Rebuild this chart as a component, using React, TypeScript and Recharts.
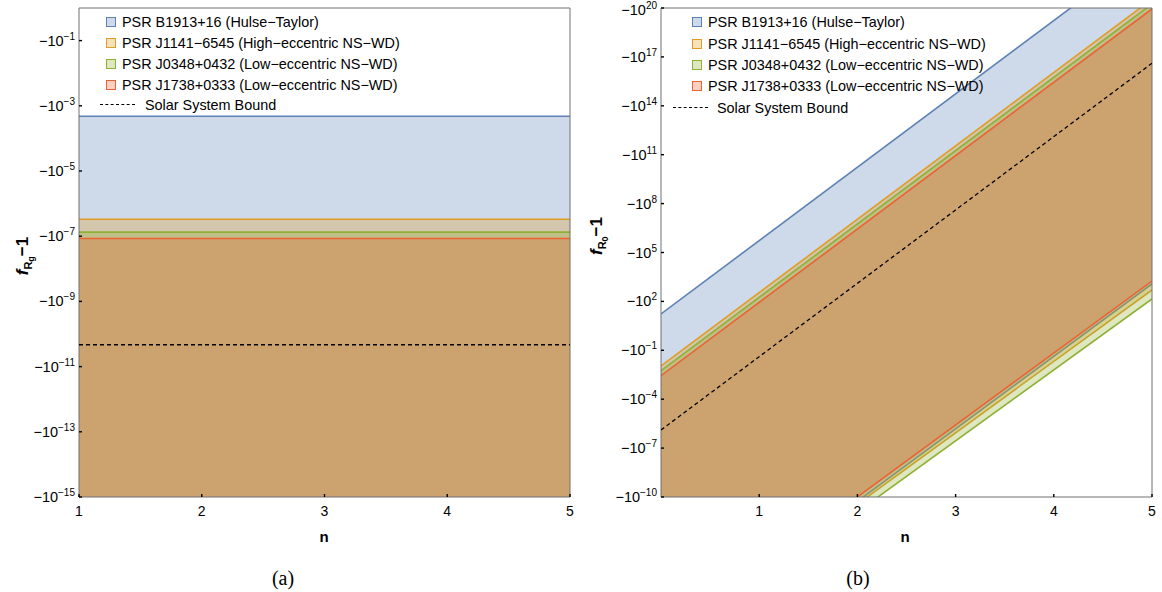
import React from 'react';
import { ComposedChart, Area, Line, XAxis, YAxis, ReferenceArea } from 'recharts';

const seriesNames = [
  'PSR B1913+16 (Hulse\u2212Taylor)',
  'PSR J1141\u22126545 (High\u2212eccentric NS\u2212WD)',
  'PSR J0348+0432 (Low\u2212eccentric NS\u2212WD)',
  'PSR J1738+0333 (Low\u2212eccentric NS\u2212WD)',
];
const boundName = 'Solar System Bound';
const seriesColors = ['#5E81B5', '#E19C24', '#8FB032', '#EB6235'];

// Panel (a): exponent k, where f_Rg - 1 = -10^k
const aN = [1, 5];
const aFloor = [-15.5, -15.5];
const aB1913 = [-3.32, -3.32];
const aJ1141 = [-6.48, -6.48];
const aJ0348 = [-6.875, -6.875];
const aJ1738 = [-7.07, -7.07];
const aSolar = [-10.33, -10.33];
const aYTicks = [-15, -13, -11, -9, -7, -5, -3, -1];
const aXTicks = [1, 2, 3, 4, 5];
const aTopTicks = [1.2, 1.4, 1.6, 1.8, 2, 2.2, 2.4, 2.6, 2.8, 3, 3.2, 3.4, 3.6, 3.8, 4, 4.2, 4.4, 4.6, 4.8];

// Panel (b): exponent k, where f_R0 - 1 = -10^k
const bN = [0, 5];
const bB1913Upper = [1.23, 23.73];
const bB1913Lower = [-19.16, 3.07];
const bJ1141Upper = [-1.96, 20.54];
const bJ1141Lower = [-19.2, 2.7];
const bJ0348Upper = [-2.25, 20.25];
const bJ0348Lower = [-19.62, 2.15];
const bJ1738Upper = [-2.56, 19.94];
const bJ1738Lower = [-18.83, 3.25];
const bSolar = [-5.89, 16.61];
const bYTicks = [-10, -7, -4, -1, 2, 5, 8, 11, 14, 17, 20];
const bXTicks = [1, 2, 3, 4, 5];
const bTopTicks = [0.25, 0.5, 0.75, 1, 1.25, 1.5, 1.75, 2, 2.25, 2.5, 2.75, 3, 3.25, 3.5, 3.75, 4, 4.25, 4.5, 4.75];

const aData = aN.map((n, i) => ({
  n,
  s0: [aFloor[i], aB1913[i]],
  s1: [aFloor[i], aJ1141[i]],
  s2: [aFloor[i], aJ0348[i]],
  s3: [aFloor[i], aJ1738[i]],
  solar: aSolar[i],
}));

const bData = bN.map((n, i) => ({
  n,
  s0: [bB1913Lower[i], bB1913Upper[i]],
  s1: [bJ1141Lower[i], bJ1141Upper[i]],
  s2: [bJ0348Lower[i], bJ0348Upper[i]],
  s3: [bJ1738Lower[i], bJ1738Upper[i]],
  solar: bSolar[i],
}));

const FONT = '"Liberation Sans", Arial, Helvetica, sans-serif';
const FRAME = '#707070';

const expLabel = (k: number) => (k < 0 ? '\u2212' + Math.abs(k) : String(k));

const makeYTick = (plotLeft: number) => (props: any) => {
  const { y, payload } = props;
  const base = y < 15 ? y + 7 : y + 5;
  return (
    <g>
      <line x1={plotLeft} x2={plotLeft + 3} y1={y} y2={y} stroke="#000" strokeWidth={1.4} />
      <text x={plotLeft - 4} y={base} textAnchor="end" fontFamily={FONT} fontSize={14.5} fill="#000">
        <tspan>{'\u221210'}</tspan>
        <tspan dy={-6} fontSize={10}>{expLabel(payload.value)}</tspan>
      </text>
    </g>
  );
};

const makeXTick = (plotBottom: number) => (props: any) => {
  const { x, payload } = props;
  return (
    <g>
      <line x1={x} x2={x} y1={plotBottom} y2={plotBottom - 3} stroke="#000" strokeWidth={1.4} />
      <text x={x} y={plotBottom + 19} textAnchor="middle" fontFamily={FONT} fontSize={14} fill="#000">
        {payload.value}
      </text>
    </g>
  );
};

const makeTopTick = (plotTop: number) => (props: any) => {
  const { x } = props;
  return <line x1={x} x2={x} y1={plotTop} y2={plotTop + 3} stroke="#000" strokeWidth={1.3} />;
};

function Panel({ data, xDomain, yDomain, yTicks, xTicks, topTicks }: any) {
  const plotTop = 8;
  const plotBottom = 497;
  return (
    <ComposedChart
      width={600}
      height={592}
      data={data}
      margin={{ top: plotTop, right: 30, bottom: 65, left: 0 }}
    >
      <XAxis
        dataKey="n"
        type="number"
        domain={xDomain}
        ticks={xTicks}
        allowDataOverflow
        height={30}
        axisLine={false}
        tickLine={false}
        tick={makeXTick(plotBottom)}
        interval={0}
      />
      <XAxis
        xAxisId="top"
        orientation="top"
        dataKey="n"
        type="number"
        domain={xDomain}
        ticks={topTicks}
        allowDataOverflow
        height={0}
        axisLine={false}
        tickLine={false}
        tick={makeTopTick(plotTop)}
        interval={0}
      />
      <YAxis
        type="number"
        domain={yDomain}
        ticks={yTicks}
        allowDataOverflow
        width={79}
        axisLine={false}
        tickLine={false}
        tick={makeYTick(79)}
        interval={0}
      />
      {[0, 1, 2, 3].map((i) => (
        <Area
          key={i}
          type="linear"
          dataKey={'s' + i}
          stroke={seriesColors[i]}
          strokeWidth={1.6}
          fill={seriesColors[i]}
          fillOpacity={0.3}
          isAnimationActive={false}
          dot={false}
          activeDot={false}
        />
      ))}
      <Line
        type="linear"
        dataKey="solar"
        stroke="#000"
        strokeWidth={1.3}
        strokeDasharray="4 3"
        dot={false}
        activeDot={false}
        isAnimationActive={false}
      />
      <ReferenceArea
        x1={xDomain[0]}
        x2={xDomain[1]}
        y1={yDomain[0]}
        y2={yDomain[1]}
        fill="none"
        stroke={FRAME}
        strokeWidth={1}
        ifOverflow="visible"
      />
    </ComposedChart>
  );
}

function Legend({ left, textLeft, dashLeft, dashTextLeft, rows }: any) {
  const textStyle: any = {
    position: 'absolute',
    height: 18,
    lineHeight: '18px',
    fontFamily: FONT,
    fontSize: 14.4,
    whiteSpace: 'nowrap',
    color: '#000',
  };
  return (
    <>
      {seriesNames.map((name, i) => (
        <React.Fragment key={i}>
          <div
            style={{
              position: 'absolute',
              left,
              top: rows[i] - 5,
              width: 8,
              height: 8,
              border: `1px solid ${seriesColors[i]}`,
              background: seriesColors[i] + '4D',
            }}
          />
          <div style={{ ...textStyle, left: textLeft, top: rows[i] - 9 }}>{name}</div>
        </React.Fragment>
      ))}
      <div
        style={{
          position: 'absolute',
          left: dashLeft,
          top: rows[4] - 1,
          width: 35,
          height: 0,
          borderTop: '1.4px dashed #000',
        }}
      />
      <div style={{ ...textStyle, left: dashTextLeft, top: rows[4] - 9 }}>{boundName}</div>
    </>
  );
}

function YLabel({ cx, cy, sub }: any) {
  return (
    <div
      style={{
        position: 'absolute',
        left: cx,
        top: cy,
        transform: 'translate(-50%, -50%) rotate(-90deg)',
        whiteSpace: 'nowrap',
        fontFamily: FONT,
        fontWeight: 'bold',
        fontSize: 17,
        lineHeight: '22px',
      }}
    >
      <i>f</i>
      <span style={{ fontSize: 11, position: 'relative', top: 4 }}>
        R<span style={{ fontSize: 9, position: 'relative', top: 2 }}>{sub}</span>
      </span>
      {'\u22121'}
    </div>
  );
}

export default function App() {
  const serif = '"Liberation Serif", "DejaVu Serif", serif';
  return (
    <div style={{ position: 'absolute', left: 0, top: 0, width: 1162, height: 592, background: '#fff', overflow: 'hidden' }}>
      <div style={{ position: 'absolute', left: 0, top: 0 }}>
        <Panel data={aData} xDomain={[1, 5]} yDomain={[-15, 0]} yTicks={aYTicks} xTicks={aXTicks} topTicks={aTopTicks} />
      </div>
      <div style={{ position: 'absolute', left: 582, top: 0 }}>
        <Panel data={bData} xDomain={[0, 5]} yDomain={[-10, 20]} yTicks={bYTicks} xTicks={bXTicks} topTicks={bTopTicks} />
      </div>
      <Legend left={106} textLeft={122} dashLeft={100} dashTextLeft={145} rows={[22, 43, 64, 85, 105]} />
      <Legend left={692} textLeft={708} dashLeft={673} dashTextLeft={717} rows={[22, 44, 65, 86, 108]} />
      <YLabel cx={24} cy={256} sub="g" />
      <YLabel cx={598} cy={236} sub="0" />
      <div style={{ position: 'absolute', left: 324, top: 536, transform: 'translate(-50%,-50%)', fontFamily: FONT, fontWeight: 'bold', fontSize: 15 }}>n</div>
      <div style={{ position: 'absolute', left: 905, top: 536, transform: 'translate(-50%,-50%)', fontFamily: FONT, fontWeight: 'bold', fontSize: 15 }}>n</div>
      <div style={{ position: 'absolute', left: 283, top: 578, transform: 'translate(-50%,-50%)', fontFamily: serif, fontSize: 20 }}>(a)</div>
      <div style={{ position: 'absolute', left: 858, top: 578, transform: 'translate(-50%,-50%)', fontFamily: serif, fontSize: 20 }}>(b)</div>
    </div>
  );
}
